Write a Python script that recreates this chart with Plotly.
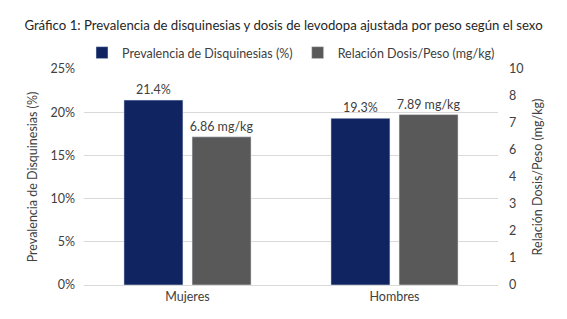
import plotly.graph_objects as go

categories = ["Mujeres", "Hombres"]
prevalencia = [21.4, 19.3]
dosis_peso = [6.86, 7.89]
prev_labels = ["21.4%", "19.3%"]
dosis_labels = ["6.86 mg/kg", "7.89 mg/kg"]
left_ticks = [0, 5, 10, 15, 20, 25]
left_ticktext = ["0%", "5%", "10%", "15%", "20%", "25%"]
right_ticks = [0, 1.25, 2.5, 3.75, 5, 6.25, 7.5, 8.75, 10]
right_ticktext = ["0", "1", "2", "3", "4", "6", "7", "8", "10"]

FONT = "Lato"
TXT = "#404040"

fig = go.Figure()
fig.add_trace(go.Bar(
    x=categories, y=prevalencia, name="Prevalencia de Disquinesias (%)",
    marker=dict(color="#0f2461"), text=prev_labels, textposition="outside",
    textfont=dict(size=12.5, color=TXT, family=FONT), cliponaxis=False,
    constraintext="none",
    width=0.285, offset=-0.307, yaxis="y",
))
fig.add_trace(go.Bar(
    x=categories, y=dosis_peso, name="Relación Dosis/Peso (mg/kg)",
    marker=dict(color="#595959"), text=dosis_labels, textposition="outside",
    textfont=dict(size=12.5, color=TXT, family=FONT), cliponaxis=False,
    constraintext="none",
    width=0.285, offset=0.022, yaxis="y2",
))

fig.update_layout(
    width=567, height=319,
    margin=dict(l=84, r=69, t=69, b=34),
    paper_bgcolor="white", plot_bgcolor="white",
    font=dict(family=FONT, size=12.5, color=TXT),
    title=dict(text="Gráfico 1: Prevalencia de disquinesias y dosis de levodopa ajustada por peso según el sexo",
               x=0.5, xanchor="center", y=1 - 25 / 319, yanchor="middle",
               font=dict(size=13.2, color="#262626", family=FONT)),
    legend=dict(orientation="h", x=0.5, xanchor="center", y=1.074, yanchor="middle",
                font=dict(size=12.5, color=TXT, family=FONT), itemwidth=30,
                traceorder="normal"),
    showlegend=True,
    xaxis=dict(showgrid=False, showline=True, linecolor="#d9d9d9", ticks="",
               tickfont=dict(size=12.5, color=TXT)),
    yaxis=dict(range=[0, 25], tickvals=left_ticks, ticktext=left_ticktext,
               showgrid=True, gridcolor="#d9d9d9", zeroline=False,
               ticklabelstandoff=8,
               title=dict(text="Prevalencia de Disquinesias (%)", standoff=10,
                          font=dict(size=12.5, color=TXT))),
    yaxis2=dict(range=[0, 10], tickvals=right_ticks, ticktext=right_ticktext,
                overlaying="y", side="right", showgrid=False, zeroline=False,
                ticklabelstandoff=10,
                title=dict(text="Relación Dosis/Peso (mg/kg)", standoff=10,
                           font=dict(size=12.5, color=TXT))),
)

fig.write_html("out.html")
